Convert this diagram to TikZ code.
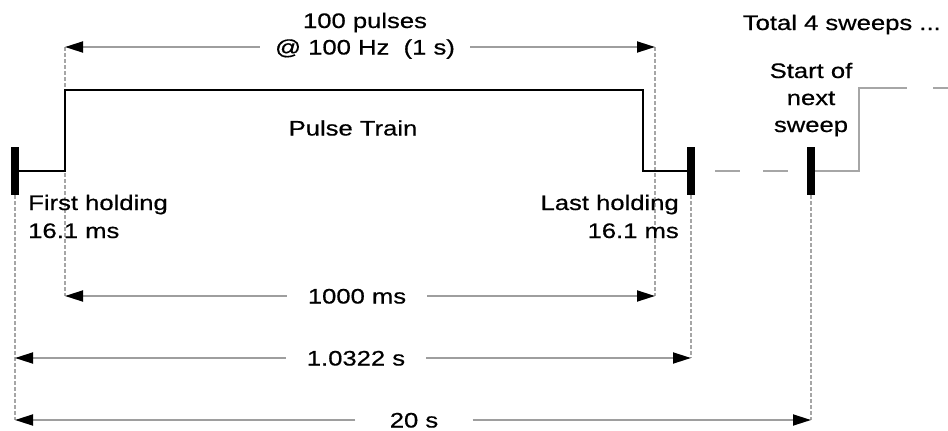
\documentclass[tikz,border=0pt]{standalone}
\usepackage{fontspec}
\setmainfont{Liberation Sans}
\newfontfamily\lblfont{Liberation Sans}[FakeBold=0.5]
\usetikzlibrary{arrows.meta}
\begin{document}
\begin{tikzpicture}[x=1pt,y=-1pt,
  txt/.style={font=\lblfont\fontsize{21}{27}\selectfont, text=black, inner sep=0pt, text height=15pt, text depth=0pt, xscale=1.22},
  dimlbl/.style={txt, inner ysep=0pt},
  dimline/.style={draw=black!38, line width=1.8pt, -{Triangle[length=18pt,width=11pt,color=black]}},
  guide/.style={draw=black!35, line width=1.2pt, dash pattern=on 4pt off 2pt},
  pulse/.style={draw=black, line width=2.6pt, line join=miter},
  barnode/.style={fill=black, draw=none, inner sep=0pt, minimum width=8pt, minimum height=48pt},
  nextline/.style={draw=black!35, line width=2pt}]
\useasboundingbox (0,0) rectangle (948,431);

% bars
\node[barnode] (LB) at (15,171) {};
\node[barnode] (RB) at (691,171) {};
\node[barnode] (NB) at (811,171) {};

% dimension end points
\coordinate (a1) at (65,47);
\coordinate (a2) at (655,47);
\coordinate (b1) at (65,296);
\coordinate (b2) at (655,296);
\coordinate (c1) at (15,358);
\coordinate (c2) at (691,358);
\coordinate (d1) at (15,420);
\coordinate (d2) at (811,420);

% guides
\draw[guide] (a1) -- (b1);
\draw[guide] (a2) -- (b2);
\draw[guide] (LB.south) -- (d1);
\draw[guide] (RB.south) -- (c2);
\draw[guide] (NB.south) -- (d2);

% pulse waveform
\coordinate (p1) at (65,171);
\coordinate (p2) at (65,90);
\coordinate (p3) at (643,90);
\coordinate (p4) at (643,171);
\draw[pulse] (LB.east) -- (p1) -- (p2) -- (p3) -- (p4) -- (RB.west);

% towards next sweep
\draw[nextline, dash pattern=on 0pt off 20pt on 25pt off 23pt on 25pt off 40pt] (RB.east) -- (NB.west);
\coordinate (n1) at (859,171);
\coordinate (n2) at (859,88);
\coordinate (n3) at (907,88);
\coordinate (n4) at (933,88);
\coordinate (n5) at (948,88);
\draw[nextline] (NB.east) -- (n1) -- (n2) -- (n3);
\draw[nextline] (n4) -- (n5);

% dimension labels and arrows
\node[dimlbl, inner xsep=12.3pt] (t100) at (365,47) {@ 100 Hz\ \ (1 s)};
\node[txt] (t100b) at (365,20.5) {100 pulses};
\draw[dimline] (t100) -- (a1);
\draw[dimline] (t100) -- (a2);

\node[dimlbl, inner xsep=17pt] (t1000) at (357,296) {1000 ms};
\draw[dimline] (t1000) -- (b1);
\draw[dimline] (t1000) -- (b2);

\node[dimlbl, inner xsep=17pt] (t1032) at (356,358) {1.0322 s};
\draw[dimline] (t1032) -- (c1);
\draw[dimline] (t1032) -- (c2);

\node[dimlbl, inner xsep=28pt] (t20) at (414,420) {20 s};
\draw[dimline] (t20) -- (d1);
\draw[dimline] (t20) -- (d2);

% other texts
\node[txt] (pt) at (353,128) {Pulse Train};
\node[txt, anchor=west] (fh1) at (28,202.5) {First holding};
\node[txt, anchor=west] (fh2) at (28,230.5) {16.1 ms};
\node[txt, anchor=east] (lh1) at (679,202.5) {Last holding};
\node[txt, anchor=east] (lh2) at (679,230.5) {16.1 ms};
\node[txt, anchor=east] (tot) at (941,22.5) {Total 4 sweeps ...};
\node[txt] (s1) at (811,70.5) {Start of};
\node[txt] (s2) at (811,97.5) {next};
\node[txt] (s3) at (811,124.5) {sweep};
\end{tikzpicture}
\end{document}
